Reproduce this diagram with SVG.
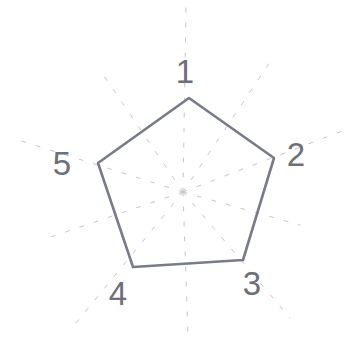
<svg xmlns="http://www.w3.org/2000/svg" width="353" height="338" viewBox="0 0 353 338">
<style>
.ray{stroke:#c2c6ce;stroke-width:1;stroke-dasharray:4 11;stroke-linecap:round;fill:none}
.shape{fill:none;stroke:#767c89;stroke-width:2.6;stroke-linejoin:round}
.lbl{font-family:"Liberation Sans",Arial,sans-serif;font-size:33px;fill:#6a707c;text-anchor:middle}
</style>
<rect width="353" height="338" fill="#ffffff"/>
<g id="connectors">
<line class="ray" x1="183" y1="192" x2="186" y2="8"/>
<line class="ray" x1="183" y1="192" x2="270" y2="62"/>
<line class="ray" x1="183" y1="192" x2="350" y2="128"/>
<line class="ray" x1="183" y1="192" x2="300" y2="225"/>
<line class="ray" x1="183" y1="192" x2="290" y2="318"/>
<line class="ray" x1="183" y1="192" x2="188" y2="335"/>
<line class="ray" x1="183" y1="192" x2="72" y2="328"/>
<line class="ray" x1="183" y1="192" x2="42" y2="240"/>
<line class="ray" x1="183" y1="192" x2="12" y2="138"/>
<line class="ray" x1="183" y1="192" x2="100" y2="70"/>
</g>
<g id="pentagon">
<polygon class="shape" points="189,98 274,158 243,260 133,267 98,163"/>
</g>
<g id="label1"><text class="lbl" x="185" y="83">1</text></g>
<g id="label2"><text class="lbl" x="296" y="166">2</text></g>
<g id="label3"><text class="lbl" x="252" y="295">3</text></g>
<g id="label4"><text class="lbl" x="118" y="305">4</text></g>
<g id="label5"><text class="lbl" x="62" y="175">5</text></g>
</svg>
